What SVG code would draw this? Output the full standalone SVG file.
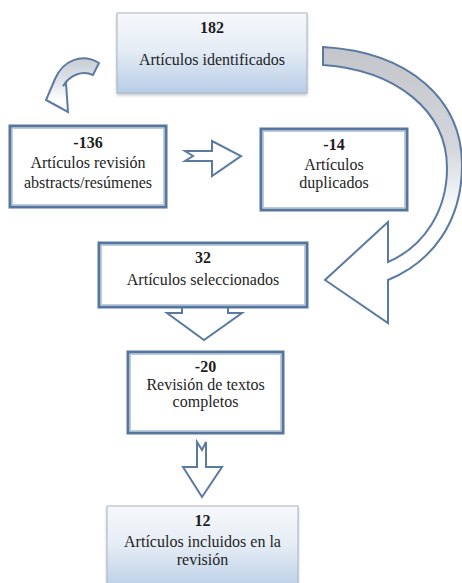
<svg xmlns="http://www.w3.org/2000/svg" width="462" height="583" viewBox="0 0 462 583">
<style>
text{font-family:'Liberation Serif','Times New Roman',serif;font-size:16px;fill:#1e1e1e;text-anchor:middle}
.b{font-weight:bold}
.box{fill:#fff;stroke:#56769e;stroke-width:3}
.inner{fill:none;stroke:#b9cbe0;stroke-width:1}
.gbox{stroke:#a9b3bf;stroke-width:1}
.arr{stroke:#5b7aa2;stroke-width:2;stroke-linejoin:miter}
</style>
<defs>
<linearGradient id="gBlue" x1="0" y1="0" x2="0" y2="1">
<stop offset="0" stop-color="#f6f8fb"/>
<stop offset="0.45" stop-color="#e6edf5"/>
<stop offset="1" stop-color="#b8cde6"/>
</linearGradient>
<linearGradient id="gArc" gradientUnits="userSpaceOnUse" x1="0" y1="45" x2="0" y2="215">
<stop offset="0" stop-color="#c3c5ca"/>
<stop offset="0.6" stop-color="#d3d6dc"/>
<stop offset="1" stop-color="#ffffff"/>
</linearGradient>
<linearGradient id="gSmall" gradientUnits="userSpaceOnUse" x1="0" y1="55" x2="0" y2="100">
<stop offset="0" stop-color="#c6cad2"/>
<stop offset="0.6" stop-color="#dfe3ea"/>
<stop offset="1" stop-color="#ffffff"/>
</linearGradient>
<filter id="sh" x="-10%" y="-10%" width="120%" height="130%">
<feDropShadow dx="0" dy="2" stdDeviation="1.5" flood-color="#8a96a6" flood-opacity="0.5"/>
</filter>
</defs>

<g id="connectors">
<path class="arr" fill="url(#gArc)" d="M323 47 C410 52 462 100 462 165 C462 222 432 262 388 280 L388 323 L325 280 L388 222 L388 262 C425 246 447 210 447 168 C447 110 395 70 323 65 Z"/>
<path class="arr" fill="url(#gSmall)" d="M99 63 C82 53 63 60 55 79 L46 100 L68 112 L66 83 L63 86 C70 75 82 70 93 75 Z"/>
<path class="arr" fill="#fff" d="M185 151 L212 151 L212 141 L241 156 L212 176 L212 161 L185 161 L193 156 Z"/>
<path class="arr" fill="#fff" d="M182 290 L182 313 L167 313 L204 340 L242 313 L228 313 L228 290 Z"/>
<path class="arr" fill="#fff" d="M197 442 L202 450 L206 442 L206 467 L222 467 L202 497 L183 467 L197 467 Z"/>
</g>

<g id="n182">
<rect class="gbox" x="117" y="13" width="190" height="80" fill="url(#gBlue)" filter="url(#sh)"/>
<text class="b" x="212" y="33">182</text>
<text x="212" y="65">Artículos identificados</text>
</g>

<g id="n136">
<rect class="box" x="10" y="126" width="156" height="81"/>
<rect class="inner" x="12.5" y="128.5" width="151" height="76"/>
<text class="b" x="88" y="148">-136</text>
<text x="88" y="168">Artículos revisión</text>
<text x="88" y="188">abstracts/resúmenes</text>
</g>

<g id="n14">
<rect class="box" x="261" y="129" width="146" height="81"/>
<rect class="inner" x="263.5" y="131.5" width="141" height="76"/>
<text class="b" x="334" y="150">-14</text>
<text x="334" y="170">Artículos</text>
<text x="334" y="188">duplicados</text>
</g>

<g id="n32">
<rect class="box" x="99" y="243" width="208" height="64"/>
<rect class="inner" x="101.5" y="245.5" width="203" height="59"/>
<text class="b" x="203" y="263">32</text>
<text x="203" y="285">Artículos seleccionados</text>
</g>

<g id="n20">
<rect class="box" x="128" y="352" width="155" height="81"/>
<rect class="inner" x="130.5" y="354.5" width="150" height="76"/>
<text class="b" x="205.5" y="372">-20</text>
<text x="205.5" y="390">Revisión de textos</text>
<text x="205.5" y="407">completos</text>
</g>

<g id="n12">
<rect class="gbox" x="107" y="506" width="191" height="85" fill="url(#gBlue)" filter="url(#sh)"/>
<text class="b" x="202.5" y="526">12</text>
<text x="202.5" y="547">Artículos incluidos en la</text>
<text x="202.5" y="565">revisión</text>
</g>
</svg>
